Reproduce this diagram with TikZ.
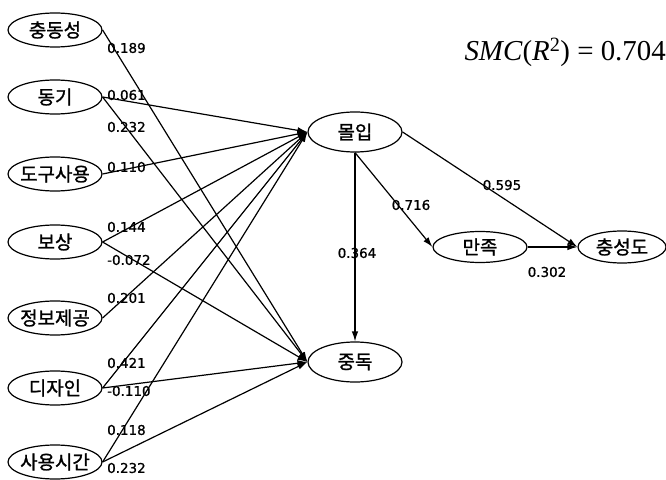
\documentclass[tikz,border=0pt]{standalone}
\usepackage{fontspec}
\setmainfont{Liberation Serif}
\newfontfamily\krfont[FakeBold=1.2]{Noto Sans CJK KR}
\newfontfamily\numfont[FakeBold=1]{DejaVu Sans}
\usetikzlibrary{shapes.geometric,arrows.meta}

\tikzset{
  oval/.style={draw, ellipse, line width=1.2bp, inner sep=0pt,
               minimum width=94bp, minimum height=34bp},
  bigoval/.style={oval, minimum height=40bp},
  smalloval/.style={oval, minimum height=31bp},
  krtext/.style={font=\krfont\fontsize{19}{19}\selectfont},
  coef/.style={font=\numfont\fontsize{13.5}{14}\selectfont, inner sep=0pt},
  path/.style={line width=1.2bp, -{Latex[length=10bp,width=6.5bp]}}
}

\newcommand{\construct}[5]{%
  \node[#1, label={[krtext]center:#5}] (#2) at (#3,#4) {};}

\begin{document}
\begin{tikzpicture}[x=1bp, y=-1bp]
  \useasboundingbox (0,0) rectangle (666,480);

  % exogenous constructs
  \construct{oval}{chung}{55}{30}{충동성}
  \construct{oval}{donggi}{55}{97}{동기}
  \construct{oval}{dogu}{55}{174}{도구사용}
  \construct{oval}{bosang}{55}{242}{보상}
  \construct{oval}{jeongbo}{55}{318}{정보제공}
  \construct{oval}{design}{55}{388}{디자인}
  \construct{oval}{sayong}{55}{462}{사용시간}

  % mediating and outcome constructs
  \construct{bigoval}{mol}{355}{132}{몰입}
  \construct{bigoval}{jung}{355}{362}{중독}
  \construct{smalloval}{manjok}{480}{247}{만족}
  \node[oval, minimum width=88bp, minimum height=32bp,
        label={[krtext]center:충성도}] (loyal) at (622,247) {};

  % paths into flow (몰입)
  \draw[path] (donggi.east)  -- (mol.west);
  \draw[path] (dogu.east)    -- (mol.west);
  \draw[path] (bosang.east)  -- (mol.west);
  \draw[path] (jeongbo.east) -- (mol.west);
  \draw[path] (design.east)  -- (mol.west);
  \draw[path] (sayong.east)  -- (mol.west);

  % paths into addiction (중독)
  \draw[path] (chung.east)   -- (jung.west);
  \draw[path] (donggi.east)  -- (jung.west);
  \draw[path] (bosang.east)  -- (jung.west);
  \draw[path] (design.east)  -- (jung.west);
  \draw[path] (sayong.east)  -- (jung.west);

  % downstream paths
  \draw[path] (mol.south) -- (jung.north);
  \draw[path] (mol.south) -- (manjok.west);
  \draw[path] (mol.east)  -- (loyal.west);
  \draw[path] (manjok.east) -- (loyal.west);

  % path coefficients
  \node[coef, anchor=west] (c1)  at (107,48)  {0.189};
  \node[coef, anchor=west] (c2)  at (107,95)  {0.061};
  \node[coef, anchor=west] (c3)  at (107,127) {0.232};
  \node[coef, anchor=west] (c4)  at (107,167) {0.110};
  \node[coef, anchor=west] (c5)  at (107,227) {0.144};
  \node[coef, anchor=west] (c6)  at (107,260) {-0.072};
  \node[coef, anchor=west] (c7)  at (107,298) {0.201};
  \node[coef, anchor=west] (c8)  at (107,363) {0.421};
  \node[coef, anchor=west] (c9)  at (107,391) {-0.110};
  \node[coef, anchor=west] (c10) at (107,430) {0.118};
  \node[coef, anchor=west] (c11) at (107,468) {0.232};
  \node[coef] (c12) at (357,253) {0.364};
  \node[coef] (c13) at (411,205) {0.716};
  \node[coef] (c14) at (502,185) {0.595};
  \node[coef] (c15) at (547,272) {0.302};

  % explained variance
  \node[font=\fontsize{29}{30}\selectfont, anchor=east, inner sep=0pt] (smc) at (666,52)
    {\textit{SMC}(\textit{R}\textsuperscript{2}) = 0.704};
\end{tikzpicture}
\end{document}
